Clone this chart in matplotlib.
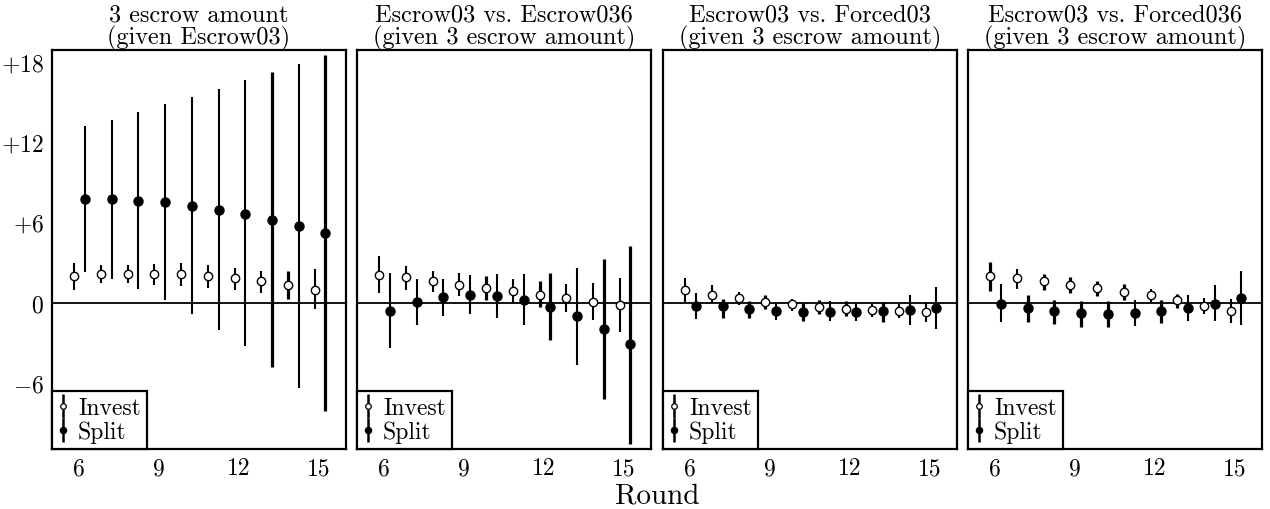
import numpy as np
import matplotlib
matplotlib.use("Agg")
import matplotlib.pyplot as plt

plt.rcParams['font.family'] = 'serif'
plt.rcParams['font.serif'] = ['cmr10']
plt.rcParams['mathtext.fontset'] = 'cm'
plt.rcParams['axes.unicode_minus'] = False

rounds = np.arange(6, 16)

titles = ["3 escrow amount\n(given Escrow03)",
          "Escrow03 vs. Escrow036\n(given 3 escrow amount)",
          "Escrow03 vs. Forced03\n(given 3 escrow amount)",
          "Escrow03 vs. Forced036\n(given 3 escrow amount)"]

# estimate, upper, lower for each panel
invest_mid = [
    [1.97, 2.11, 2.11, 2.11, 2.11, 1.97, 1.82, 1.59, 1.34, 0.97],
    [2.09, 1.89, 1.64, 1.34, 1.12, 0.90, 0.60, 0.37, 0.07, -0.15],
    [0.97, 0.60, 0.37, 0.07, -0.07, -0.30, -0.45, -0.52, -0.60, -0.67],
    [1.97, 1.82, 1.59, 1.34, 1.12, 0.82, 0.60, 0.22, -0.22, -0.60],
]
invest_hi = [
    [2.94, 2.79, 2.79, 2.86, 2.94, 2.79, 2.56, 2.34, 2.34, 2.49],
    [3.46, 2.76, 2.36, 2.19, 1.97, 1.74, 1.59, 1.37, 1.44, 1.82],
    [1.82, 1.29, 0.82, 0.60, 0.30, 0.22, 0.15, 0.00, -0.07, 0.07],
    [3.01, 2.49, 2.11, 1.89, 1.64, 1.37, 1.04, 0.67, 0.37, 0.30],
]
invest_lo = [
    [0.97, 1.44, 1.44, 1.34, 1.22, 1.12, 0.97, 0.75, 0.30, -0.45],
    [0.75, 0.97, 0.82, 0.52, 0.22, 0.00, -0.30, -0.67, -1.27, -2.16],
    [0.00, 0.00, -0.15, -0.45, -0.60, -0.82, -0.97, -1.04, -1.12, -1.42],
    [0.90, 1.04, 0.97, 0.75, 0.52, 0.22, 0.00, -0.37, -0.82, -1.49],
]
split_mid = [
    [7.76, 7.76, 7.61, 7.54, 7.24, 6.94, 6.64, 6.19, 5.75, 5.22],
    [-0.60, 0.07, 0.45, 0.60, 0.52, 0.22, -0.30, -0.97, -1.94, -3.13],
    [-0.22, -0.22, -0.45, -0.60, -0.67, -0.67, -0.67, -0.60, -0.52, -0.37],
    [-0.07, -0.37, -0.60, -0.75, -0.82, -0.75, -0.60, -0.37, -0.07, 0.37],
]
split_hi = [
    [13.18, 13.70, 14.23, 14.83, 15.42, 15.97, 16.64, 17.24, 17.89, 18.53],
    [2.19, 1.74, 1.74, 2.04, 2.11, 2.11, 2.19, 2.56, 3.23, 4.20],
    [0.75, 0.30, 0.15, 0.00, 0.00, 0.15, 0.00, 0.07, 0.60, 1.14],
    [1.37, 0.60, 0.22, 0.15, 0.15, 0.22, 0.22, 0.60, 1.29, 2.34],
]
split_lo = [
    [2.31, 1.79, 1.04, 0.22, -0.82, -2.01, -3.28, -4.78, -6.42, -8.13],
    [-3.36, -1.64, -0.97, -0.82, -1.12, -1.64, -2.76, -4.63, -7.24, -10.60],
    [-1.19, -1.12, -1.12, -1.27, -1.34, -1.34, -1.34, -1.42, -1.64, -1.94],
    [-1.42, -1.42, -1.57, -1.79, -1.79, -1.72, -1.49, -1.34, -1.34, -1.64],
]
# rounds drawn with a heavier bar
invest_bold = [[14], [10, 12], [9, 11, 12], [6, 8, 9, 10, 11, 13]]
split_bold = [[13, 15], [12, 14, 15], [7, 8, 10, 13], [7, 8, 9, 10, 12]]

ytick_vals = [-6, 0, 6, 12, 18]
ytick_labels = ['$-6$', '$0$', '$+6$', '$+12$', '$+18$']
xtick_vals = [6, 9, 12, 15]


def draw_series(ax, x, mid, hi, lo, bold, filled, label):
    mid = np.array(mid)
    hi = np.array(hi)
    lo = np.array(lo)
    lw = np.where(np.isin(rounds, bold), 2.3, 1.5)
    face = 'black' if filled else 'white'
    ax.vlines(x, lo, hi, colors='black', linewidth=lw, zorder=2)
    ax.plot(x, mid, 'o', ms=6.5 if filled else 6.0,
            mfc=face, mec='black', mew=1.0, zorder=3)
    # proxy for the legend: small marker with a bar through it
    return ax.errorbar([], [], yerr=[], fmt='o', ms=4.5 if filled else 4.0,
                       mfc=face, mec='black', mew=0.9, ecolor='black',
                       elinewidth=1.8, label=label)


fig = plt.figure(figsize=(12.7, 5.1), dpi=100)
lefts = [52, 357, 663, 968]
for i in range(4):
    ax = fig.add_axes([lefts[i] / 1270, 60 / 510, 294 / 1270, 399 / 510])
    ax.axhline(0, color='black', lw=1.3, zorder=1)
    h1 = draw_series(ax, rounds - 0.17, invest_mid[i], invest_hi[i], invest_lo[i],
                     invest_bold[i], False, 'Invest')
    h2 = draw_series(ax, rounds + 0.23, split_mid[i], split_hi[i], split_lo[i],
                     split_bold[i], True, 'Split')
    ax.set_xlim(5, 16)
    ax.set_ylim(-10.95, 18.9)
    ax.set_xticks(xtick_vals)
    ax.set_xticklabels([str(v) for v in xtick_vals], fontsize=17)
    ax.set_yticks(ytick_vals)
    if i == 0:
        ax.set_yticklabels(ytick_labels, fontsize=17)
    else:
        ax.set_yticklabels([])
    ax.tick_params(length=0, pad=6)
    for s in ax.spines.values():
        s.set_linewidth(1.6)
    ax.set_title(titles[i], fontsize=17.5, linespacing=0.95, pad=1)
    leg = ax.legend(handles=[h1, h2], loc='lower left', borderaxespad=0,
                    fontsize=17, handlelength=0.45, handletextpad=0.4,
                    labelspacing=0.05, borderpad=0.25, fancybox=False,
                    framealpha=1, edgecolor='black')
    leg.get_frame().set_linewidth(1.6)

fig.text(657 / 1270, 0.0, 'Round', ha='center', va='bottom', fontsize=21)
fig.savefig('out.png', dpi=100)
